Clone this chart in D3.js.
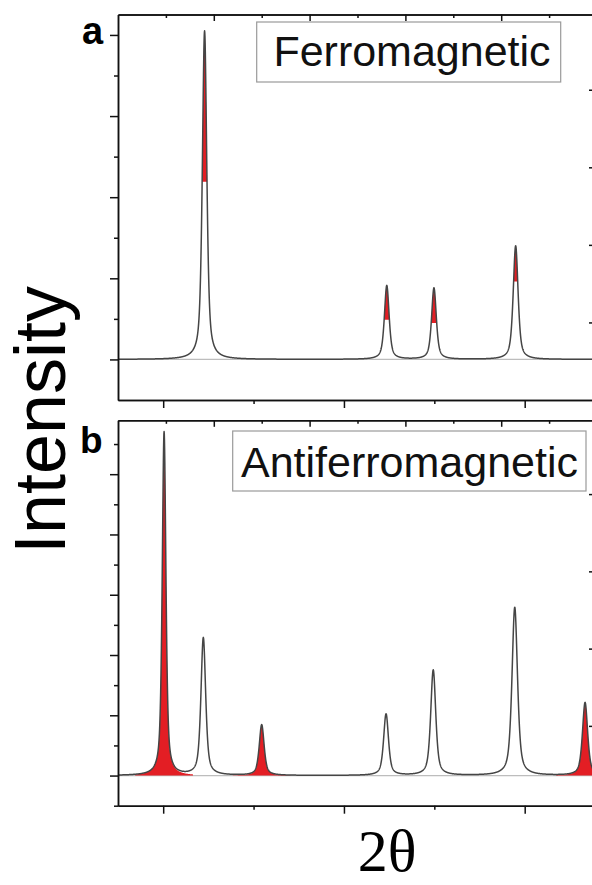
<!DOCTYPE html>
<html>
<head>
<meta charset="utf-8">
<script src="https://cdn.jsdelivr.net/npm/d3@7"></script>
<style>
  html, body { margin: 0; padding: 0; background: #fff; }
  svg { display: block; }
</style>
</head>
<body>
<script>
// ---- Diffraction pattern data (2θ in degrees, intensity in arbitrary units) ----

// Shared 2θ axis
const twoThetaDomain = [17.5, 44];
const twoThetaMajor = [20, 30, 40];
const twoThetaMinor = [25, 35];
// Secondary (top) axis divisions
const topAxisMajor = [2, 4, 6, 8];
const topAxisMinor = [1, 3, 5, 7, 9];

// (a) Ferromagnetic: total peak heights, nuclear part of each peak
const ferroCenters = [22.29, 32.37, 34.98, 39.50];
const ferroTotal   = [4.05, 0.91, 0.88, 1.40];
const ferroNuclear = [2.19, 0.49, 0.45, 0.96];
const ferroHwhm    = [0.145, 0.155, 0.155, 0.16];
const ferroYMajor  = [0, 1, 2, 3, 4];
const ferroYMinor  = [0.5, 1.5, 2.5, 3.5];
const ferroRight   = [1, 2, 3, 4];

// (b) Antiferromagnetic: peak heights, magnetic-only reflections flagged
const afmCenters  = [20.05, 22.22, 25.45, 32.33, 34.94, 39.45, 43.34];
const afmHeights  = [5.70, 2.28, 0.84, 1.02, 1.75, 2.79, 1.21];
const afmMagnetic = [true, false, true, false, false, false, true];
const afmHwhm     = [0.12, 0.155, 0.16, 0.16, 0.165, 0.18, 0.17];
const afmYMajor   = [0, 1, 2, 3, 4, 5];
const afmYMinor   = [-0.5, 0.5, 1.5, 2.5, 3.5, 4.5, 5.5];
const afmRight    = [1, 2, 3, 4];

const panelLabels = ["a", "b"];
const legendNames = ["Ferromagnetic", "Antiferromagnetic"];

// ---- Layout ----
const W = 592, H = 885;
const left = 118, right = 597;
const RED = "#e31e24", CURVE = "#454545", BASE = "#bdbdbd";
const SANS = "'Liberation Sans', Arial, Helvetica, sans-serif";

const svg = d3.select("body").append("svg")
  .attr("width", W).attr("height", H).attr("viewBox", `0 0 ${W} ${H}`);
svg.append("rect").attr("width", W).attr("height", H).attr("fill", "#fff");

const x = d3.scaleLinear().domain(twoThetaDomain).range([left, right]);
const xTop = d3.scaleLinear().domain([0, 10]).range([left, right]);

// pseudo-Voigt peak shape, unit height
const ETA = 0.6;
function pv(t, c, h) {
  const u = (t - c) / h;
  return ETA / (1 + u * u) + (1 - ETA) * Math.exp(-Math.LN2 * u * u);
}

// 2θ sampling grid (plus exact peak positions so tops are rendered)
function grid(lo, hi, extra) {
  const pts = d3.range(lo, hi + 1e-9, 0.01);
  extra.forEach(c => { if (c >= lo && c <= hi) pts.push(c); });
  return pts.sort((a, b) => a - b);
}

function drawAxes(g, y, yMajor, yMinor, yRight, top, bottom) {
  const axisStyle = sel => {
    sel.selectAll("path,line").attr("stroke", "#111").attr("stroke-width", 1.5);
    sel.selectAll("text").remove();
  };
  // left axis: outward ticks
  g.append("g").attr("transform", `translate(${left},0)`)
    .call(d3.axisLeft(y).tickValues(yMajor).tickSize(8).tickSizeOuter(0).tickFormat(""))
    .call(axisStyle);
  g.append("g").attr("transform", `translate(${left},0)`)
    .call(d3.axisLeft(y).tickValues(yMinor).tickSize(4).tickSizeOuter(0).tickFormat(""))
    .call(axisStyle);
  // bottom axis: outward ticks
  g.append("g").attr("transform", `translate(0,${bottom})`)
    .call(d3.axisBottom(x).tickValues(twoThetaMajor).tickSize(8).tickSizeOuter(0).tickFormat(""))
    .call(axisStyle);
  g.append("g").attr("transform", `translate(0,${bottom})`)
    .call(d3.axisBottom(x).tickValues(twoThetaMinor).tickSize(4).tickSizeOuter(0).tickFormat(""))
    .call(axisStyle);
  // top axis: inward ticks
  g.append("g").attr("transform", `translate(0,${top})`)
    .call(d3.axisTop(xTop).tickValues(topAxisMajor).tickSize(-6.5).tickSizeOuter(0).tickFormat(""))
    .call(axisStyle);
  g.append("g").attr("transform", `translate(0,${top})`)
    .call(d3.axisTop(xTop).tickValues(topAxisMinor).tickSize(-3.5).tickSizeOuter(0).tickFormat(""))
    .call(axisStyle);
  // right axis: inward ticks
  g.append("g").attr("transform", `translate(${right},0)`)
    .call(d3.axisRight(yRight).tickValues(yRight.ticksUsed).tickSize(-8).tickSizeOuter(0).tickFormat(""))
    .call(axisStyle);
}

function legend(g, x0, y0, x1, y1, label, cx, baseline) {
  g.append("rect").attr("x", x0).attr("y", y0).attr("width", x1 - x0).attr("height", y1 - y0)
    .attr("fill", "#fff").attr("stroke", "#9a9a9a").attr("stroke-width", 1.2);
  g.append("text").attr("x", cx).attr("y", baseline).attr("text-anchor", "middle")
    .attr("font-family", SANS).attr("font-size", 43).attr("fill", "#111").text(label);
}

// ---------- Panel (a): ferromagnetic ----------
{
  const top = 14.5, bottom = 400;
  const y = d3.scaleLinear().domain([-0.5, 4.252]).range([bottom, top]);
  const yRight = d3.scaleLinear().domain([0, 4.97]).range([bottom, top]);
  yRight.ticksUsed = ferroRight;
  const g = svg.append("g");

  const total = t => d3.sum(ferroCenters, (c, i) => ferroTotal[i] * pv(t, c, ferroHwhm[i]));

  g.append("line").attr("x1", left).attr("x2", right).attr("y1", y(0)).attr("y2", y(0))
    .attr("stroke", BASE).attr("stroke-width", 1.2);

  // magnetic contribution: part of each peak that rises above its nuclear intensity
  ferroCenters.forEach((c, i) => {
    const pts = grid(c - 0.6, c + 0.6, [c]);
    g.append("path")
      .datum(pts)
      .attr("fill", RED)
      .attr("d", d3.area()
        .x(t => x(t))
        .y0(() => y(ferroNuclear[i]))
        .y1(t => y(Math.max(total(t), ferroNuclear[i]))));
  });

  const pts = grid(twoThetaDomain[0], twoThetaDomain[1], ferroCenters);
  g.append("path").datum(pts)
    .attr("fill", "none").attr("stroke", CURVE).attr("stroke-width", 1.5)
    .attr("stroke-linejoin", "round")
    .attr("d", d3.line().x(t => x(t)).y(t => y(total(t))));

  drawAxes(g, y, ferroYMajor, ferroYMinor, yRight, top, bottom);
  legend(g, 256.7, 22, 560.7, 82, legendNames[0], 412, 66);
  g.append("text").attr("x", 82).attr("y", 44)
    .attr("font-family", SANS).attr("font-weight", "bold").attr("font-size", 38)
    .attr("fill", "#000").text(panelLabels[0]);
}

// ---------- Panel (b): antiferromagnetic ----------
{
  const top = 420.3, bottom = 805.7;
  const y = d3.scaleLinear().domain([-0.5, 5.894]).range([bottom, top]);
  const yRight = d3.scaleLinear().domain([-0.033, 4.955]).range([bottom, top]);
  yRight.ticksUsed = afmRight;
  const g = svg.append("g");

  const total = t => d3.sum(afmCenters, (c, i) => afmHeights[i] * pv(t, c, afmHwhm[i]));

  g.append("line").attr("x1", left).attr("x2", right).attr("y1", y(0)).attr("y2", y(0))
    .attr("stroke", BASE).attr("stroke-width", 1.2);

  // purely magnetic reflections filled red
  afmCenters.forEach((c, i) => {
    if (!afmMagnetic[i]) return;
    const pts = grid(Math.max(c - 1.6, twoThetaDomain[0]), Math.min(c + 1.6, twoThetaDomain[1]), [c]);
    g.append("path").datum(pts)
      .attr("fill", RED)
      .attr("d", d3.area()
        .x(t => x(t))
        .y0(y(0))
        .y1(t => y(afmHeights[i] * pv(t, c, afmHwhm[i]))));
  });

  const pts = grid(twoThetaDomain[0], twoThetaDomain[1], afmCenters);
  g.append("path").datum(pts)
    .attr("fill", "none").attr("stroke", CURVE).attr("stroke-width", 1.5)
    .attr("stroke-linejoin", "round")
    .attr("d", d3.line().x(t => x(t)).y(t => y(total(t))));

  drawAxes(g, y, afmYMajor, afmYMinor, yRight, top, bottom);
  legend(g, 232.7, 431, 586, 491, legendNames[1], 409.5, 477);
  g.append("text").attr("x", 80).attr("y", 453)
    .attr("font-family", SANS).attr("font-weight", "bold").attr("font-size", 37)
    .attr("fill", "#000").text(panelLabels[1]);
}

// ---------- Axis titles ----------
svg.append("text")
  .attr("transform", "translate(65,420) rotate(-90)")
  .attr("text-anchor", "middle")
  .attr("font-family", SANS).attr("font-size", 72).attr("fill", "#000")
  .text("Intensity");

svg.append("text")
  .attr("x", 387).attr("y", 871).attr("text-anchor", "middle")
  .attr("font-family", "'Liberation Serif', 'Times New Roman', serif")
  .attr("font-size", 60).attr("fill", "#000")
  .text("2θ");
</script>
</body>
</html>
